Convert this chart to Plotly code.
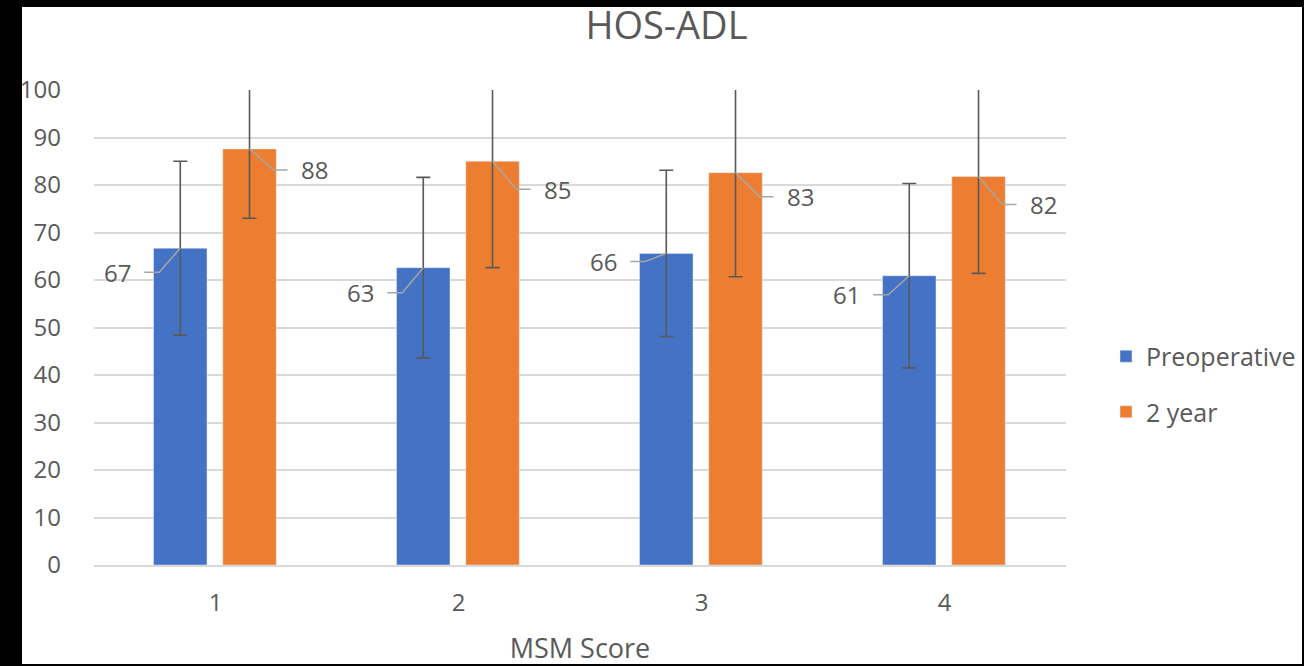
import plotly.graph_objects as go

# ---- data ----
categories = ["1", "2", "3", "4"]
preop_mean = [66.7, 62.6, 65.6, 60.9]
preop_sd = [18.3, 19.0, 17.5, 19.4]
year2_mean = [87.6, 85.0, 82.6, 81.8]
year2_sd = [14.6, 22.4, 21.9, 20.4]
series_names = ["Preoperative", "2 year"]
title_text = "HOS-ADL"
x_title = "MSM Score"
y_ticks = list(range(0, 101, 10))

# ---- layout constants (pixels) ----
W, H = 1304, 666
ML, MR, MT, MB = 94, 238, 90, 101
plot_w = W - ML - MR
plot_h = H - MT - MB
px_per_x = plot_w / 4.0      # x range 0.5..4.5
px_per_y = plot_h / 100.0    # y range 0..100

BLUE = "#4472C4"
ORANGE = "#ED7D31"
TXT = "#595959"
GRID = "#d9d9d9"
FONT = "Open Sans"

bar_w = 0.22
blue_off = -0.255
orange_off = 0.03

# label leader geometry (pixels)
blue_dx, blue_h = -21, -15
orange_dx, orange_h = 24, 14
blue_dy = [24, 25, 8, 19]
orange_dy = [21, 28, 24, 28]

xs = [i + 1 for i in range(len(categories))]

fig = go.Figure()
fig.add_trace(go.Bar(
    x=xs, y=preop_mean, name=series_names[0], marker_color=BLUE,
    width=bar_w, offset=blue_off, legendgroup="a",
    error_y=dict(type="data", array=preop_sd, color=TXT, thickness=1.6, width=7),
))
fig.add_trace(go.Bar(
    x=xs, y=year2_mean, name=series_names[1], marker_color=ORANGE,
    width=bar_w, offset=orange_off, legendgroup="b",
    error_y=dict(type="data", array=year2_sd, color=TXT, thickness=1.6, width=7),
))

annotations = []
def leaders(vals, off, dx, h, dys, side):
    lx, ly = [], []
    for x, v, dy in zip(xs, vals, dys):
        xc = x + off + bar_w / 2
        x1 = xc + dx / px_per_x
        y1 = v - dy / px_per_y
        x2 = xc + (dx + h) / px_per_x
        lx += [xc, x1, x2, None]
        ly += [v, y1, y1, None]
        annotations.append(dict(
            x=x2, y=y1, xref="x", yref="y", text=f"{v:.0f}", showarrow=False,
            xanchor="right" if side == "left" else "left",
            xshift=-11 if side == "left" else 11,
            font=dict(family=FONT, size=24, color=TXT)))
    fig.add_trace(go.Scatter(x=lx, y=ly, mode="lines", showlegend=False,
                             hoverinfo="skip", line=dict(color="#a6a6a6", width=1.5)))

leaders(preop_mean, blue_off, blue_dx, blue_h, blue_dy, "left")
leaders(year2_mean, orange_off, orange_dx, orange_h, orange_dy, "right")

# white canvas inside black frame
shapes = [dict(type="rect", xref="paper", yref="paper", layer="below",
               x0=(22 - ML) / plot_w, x1=(1302 - ML) / plot_w,
               y0=(H - MB - 664) / plot_h, y1=(H - MB - 7) / plot_h,
               fillcolor="white", line=dict(width=0))]

fig.update_layout(
    width=W, height=H,
    margin=dict(l=ML, r=MR, t=MT, b=MB, pad=0, autoexpand=False),
    paper_bgcolor="black", plot_bgcolor="white",
    barmode="overlay",
    font=dict(family=FONT, color=TXT, size=24),
    title=dict(text=title_text, x=(666.5) / W, xanchor="center",
               y=1 - 26 / H, yanchor="middle", yref="container",
               font=dict(family=FONT, size=38, color=TXT)),
    xaxis=dict(range=[0.5, 4.5], tickvals=xs, ticktext=categories,
               showgrid=False, zeroline=False, showline=True,
               linecolor=GRID, linewidth=1.5, ticks="",
               ticklabelstandoff=15,
               tickfont=dict(family=FONT, size=24, color=TXT),
               title=dict(text=x_title, standoff=23,
                          font=dict(family=FONT, size=27, color=TXT))),
    yaxis=dict(range=[0, 100], tickvals=y_ticks, showgrid=True,
               gridcolor=GRID, gridwidth=1.5, zeroline=False, showline=False,
               ticks="", ticklabelstandoff=32,
               tickfont=dict(family=FONT, size=24, color=TXT)),
    legend=dict(x=(1106 - ML) / plot_w, y=(H - MB - 384) / plot_h,
                xanchor="left", yanchor="middle", bgcolor="rgba(0,0,0,0)",
                traceorder="grouped", tracegroupgap=20,
                font=dict(family=FONT, size=25, color=TXT)),
    shapes=shapes,
    annotations=annotations,
)

fig.write_html("out.html", config={"displayModeBar": False},
               post_script="document.body.style.margin='0';document.body.style.overflow='hidden';")
